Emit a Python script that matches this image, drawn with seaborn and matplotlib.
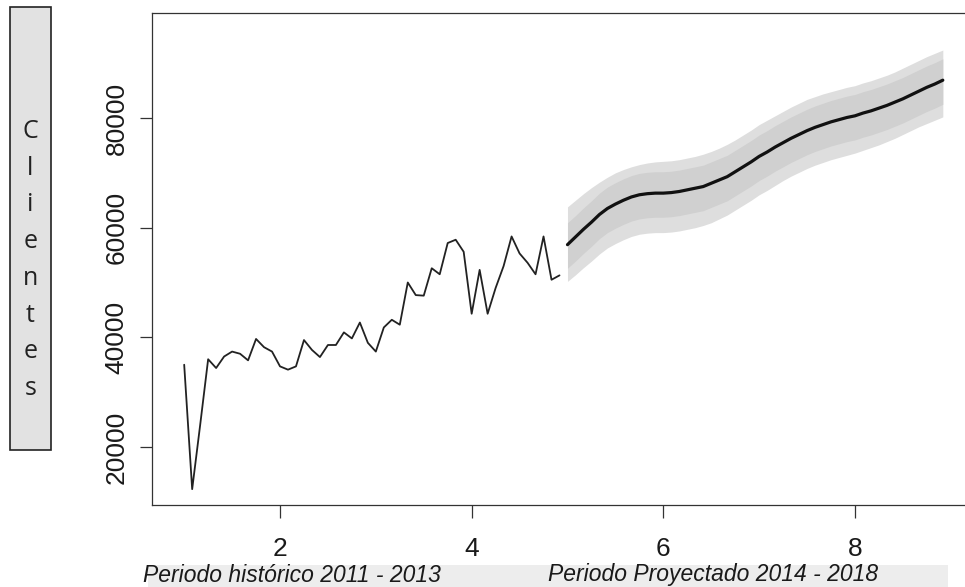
import numpy as np
import pandas as pd
import matplotlib
matplotlib.use("Agg")
import matplotlib.pyplot as plt
import seaborn as sns
from matplotlib.patches import Rectangle

sns.set_style("white")
plt.rcParams["font.family"] = ["Liberation Sans", "DejaVu Sans"]

# serie historica mensual (frecuencia 12, inicia en 1)
hist_start = 1
freq = 12
hist_clientes = [35000, 12300, 24000, 36000, 34400, 36500, 37400, 37000, 35800, 39700,
                 38200, 37400, 34700, 34100, 34700, 39500, 37700, 36400, 38600, 38600,
                 40900, 39800, 42700, 39000, 37400, 41800, 43200, 42300, 50000, 47700,
                 47600, 52600, 51500, 57200, 57800, 55600, 44300, 52300, 44300, 49000,
                 53000, 58400, 55300, 53600, 51500, 58400, 50500, 51300]

# pronostico 2014 - 2018
fc_start = 5
fc_media = [56900, 58300, 59700, 61000, 62400, 63500, 64300, 65000, 65600, 66000,
            66200, 66300, 66300, 66400, 66600, 66900, 67200, 67500, 68100, 68700,
            69300, 70200, 71100, 72000, 73000, 73800, 74700, 75500, 76300, 77000,
            77700, 78300, 78800, 79300, 79700, 80100, 80400, 80900, 81300, 81800,
            82300, 82900, 83500, 84200, 84900, 85600, 86200, 86900]
fc_hi95 = [63800, 65000, 66200, 67300, 68300, 69200, 70000, 70600, 71100, 71500,
           71800, 72000, 72100, 72200, 72400, 72700, 73000, 73400, 73900, 74500,
           75200, 76000, 76900, 77800, 78800, 79600, 80400, 81200, 82000, 82700,
           83400, 83900, 84400, 84800, 85200, 85600, 85900, 86400, 86800, 87300,
           87800, 88400, 89100, 89800, 90500, 91200, 91800, 92400]
fc_lo95 = [50200, 51400, 52700, 53900, 55200, 56300, 57100, 57800, 58400, 58800,
           59000, 59100, 59100, 59200, 59400, 59700, 60000, 60400, 60900, 61600,
           62300, 63200, 64100, 65000, 66000, 66800, 67700, 68600, 69400, 70100,
           70800, 71400, 71900, 72400, 72800, 73200, 73600, 74100, 74600, 75100,
           75700, 76300, 77000, 77700, 78400, 79000, 79600, 80200]
fc_hi80 = [60900, 62200, 63600, 64900, 66300, 67400, 68200, 68900, 69500, 69900,
           70100, 70200, 70200, 70300, 70500, 70800, 71100, 71400, 72000, 72600,
           73200, 74100, 75000, 75900, 76900, 77700, 78600, 79400, 80200, 80900,
           81600, 82200, 82700, 83200, 83600, 84000, 84300, 84800, 85200, 85700,
           86200, 86800, 87400, 88100, 88800, 89500, 90100, 90800]
fc_lo80 = [52600, 53900, 55300, 56600, 58000, 59100, 59900, 60600, 61200, 61600,
           61800, 61900, 61900, 62000, 62200, 62500, 62800, 63100, 63700, 64300,
           64900, 65800, 66700, 67600, 68600, 69400, 70300, 71100, 71900, 72600,
           73300, 73900, 74400, 74900, 75300, 75700, 76000, 76500, 76900, 77400,
           77900, 78500, 79100, 79800, 80500, 81200, 81800, 82500]

x_ticks = [2, 4, 6, 8]
y_ticks = [20000, 40000, 60000, 80000]
ylabel_txt = "Clientes"
xlabel_hist = "Periodo histórico 2011 - 2013"
xlabel_fc = "Periodo Proyectado 2014 - 2018"

hist = pd.DataFrame({"t": hist_start + np.arange(len(hist_clientes)) / freq,
                     "clientes": hist_clientes})
fc = pd.DataFrame({"t": fc_start + np.arange(len(fc_media)) / freq,
                   "media": fc_media, "lo80": fc_lo80, "hi80": fc_hi80,
                   "lo95": fc_lo95, "hi95": fc_hi95})

fig = plt.figure(figsize=(9.65, 5.87), dpi=100)
ax = fig.add_axes([0.1575, 0.1397, 0.8526, 0.8382])

ax.fill_between(fc["t"], fc["lo95"], fc["hi95"], color="#dedede", lw=0)
ax.fill_between(fc["t"], fc["lo80"], fc["hi80"], color="#d0d0d0", lw=0)
sns.lineplot(data=hist, x="t", y="clientes", ax=ax, color="#222222", lw=1.3)
sns.lineplot(data=fc, x="t", y="media", ax=ax, color="#111111", lw=2.3)

ax.set_xlim(0.664, 9.25)
ax.set_ylim(9416, 99161)
ax.set_xticks(x_ticks)
ax.set_yticks(y_ticks)
ax.set_xticklabels([str(v) for v in x_ticks])
ax.set_yticklabels([str(v) for v in y_ticks], rotation=90, va="center")
ax.tick_params(axis="both", direction="out", length=9, width=0.9, color="#333333",
               labelsize=19, labelcolor="#1a1a1a", bottom=True, left=True)
ax.tick_params(axis="x", pad=14)
ax.tick_params(axis="y", pad=8)
ax.set_xlabel("")
ax.set_ylabel("")
for s in ax.spines.values():
    s.set_color("#333333")
    s.set_linewidth(0.9)

# caja del titulo del eje y
fig.patches.append(Rectangle((10 / 965, 1 - 450 / 587), 41 / 965, 443 / 587,
                             transform=fig.transFigure, facecolor="#e2e2e2",
                             edgecolor="#222222", lw=1.2, zorder=0))
fig.text(30.5 / 965, 1 - 260 / 587, "\n".join(ylabel_txt), ha="center", va="center",
         fontsize=18, linespacing=1.62, family=["Open Sans", "DejaVu Sans"], color="#222222")

# franja gris bajo los titulos del eje x
fig.patches.append(Rectangle((148 / 965, 0), 800 / 965, 22 / 587,
                             transform=fig.transFigure, facecolor="#ededed",
                             edgecolor="none", zorder=0))
fig.text(292 / 965, 1 - 575 / 587, xlabel_hist, ha="center", va="center",
         fontsize=16.5, style="italic", color="#1a1a1a")
fig.text(713 / 965, 1 - 575 / 587, xlabel_fc, ha="center", va="center",
         fontsize=16.5, style="italic", color="#1a1a1a")

fig.savefig("out.png", dpi=100)
